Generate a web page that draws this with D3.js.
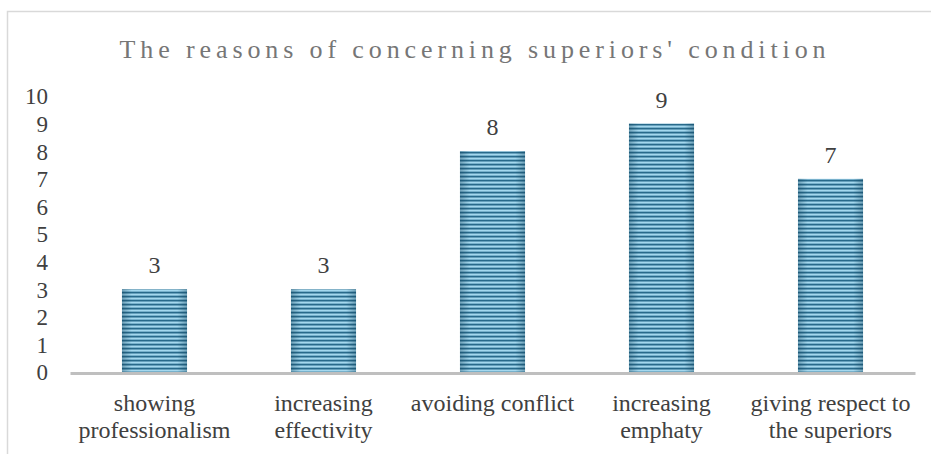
<!DOCTYPE html>
<html>
<head>
<meta charset="utf-8">
<script src="https://cdn.jsdelivr.net/npm/d3@7"></script>
</head>
<body style="margin:0">
<svg id="chart" width="931" height="454" font-family="Liberation Serif"></svg>
<script>
// Chart content
const chartTitle = "The reasons of concerning superiors' condition";
const categories = [
  ["showing", "professionalism"],
  ["increasing", "effectivity"],
  ["avoiding conflict"],
  ["increasing", "emphaty"],
  ["giving respect to", "the superiors"]
];
const values = [3, 3, 8, 9, 7];
const yTicks = [0, 1, 2, 3, 4, 5, 6, 7, 8, 9, 10];

const FONT = '"Liberation Serif"';
const svg = d3.select("#chart");

// Outer chart frame (runs off the right and bottom edges)
svg.append("rect")
  .attr("x", 7.5).attr("y", 11.5)
  .attr("width", 1000).attr("height", 600)
  .attr("fill", "#fff")
  .attr("stroke", "#d9d9d9").attr("stroke-width", 1.5);

// Striped fill for the bars
const defs = svg.append("defs");
const pat = defs.append("pattern")
  .attr("id", "stripes")
  .attr("patternUnits", "userSpaceOnUse")
  .attr("width", 8).attr("height", 4);
[["#286a8b", 0, 1.2], ["#4a8fb1", 1.2, 0.8], ["#a4d8ee", 2, 1.2], ["#5a9fc0", 3.2, 0.8]]
  .forEach(([c, yy, h]) => pat.append("rect").attr("x", 0).attr("y", yy)
    .attr("width", 8).attr("height", h).attr("fill", c));

const shade = defs.append("linearGradient").attr("id", "edgeShade")
  .attr("x1", 0).attr("x2", 1).attr("y1", 0).attr("y2", 0);
[[0, 0.35], [0.15, 0], [0.85, 0], [1, 0.35]].forEach(([o, a]) =>
  shade.append("stop").attr("offset", o).attr("stop-color", "#0d3c55").attr("stop-opacity", a));

// Scales
const x = d3.scaleBand()
  .domain(d3.range(categories.length))
  .range([70, 915])
  .paddingInner(0.615)
  .paddingOuter(0.3075);
const y = d3.scaleLinear().domain([0, 10]).range([372, 96]);

// Title, letter-spaced across its span
const title = svg.append("text")
  .attr("x", 475).attr("y", 58)
  .attr("text-anchor", "middle")
  .attr("fill", "#767676")
  .attr("font-size", 26)
  .style("font-family", FONT)
  .text(chartTitle);
const natural = title.node().getComputedTextLength();
title.style("letter-spacing", ((706 - natural) / (chartTitle.length - 1)) + "px");

// Y axis (labels only)
const yAxis = d3.axisLeft(y).tickValues(yTicks).tickSize(0).tickPadding(0);
const gy = svg.append("g").attr("transform", "translate(48,0)").call(yAxis);
gy.attr("font-family", null);
gy.select(".domain").remove();
gy.selectAll("text")
  .attr("fill", "#404040")
  .attr("font-size", 23)
  .style("font-family", FONT)
  .attr("dy", "0.34em");

// Bars
const bars = svg.append("g");
bars.selectAll("rect.bar")
  .data(values)
  .join("rect")
  .attr("class", "bar")
  .attr("x", (d, i) => x(i))
  .attr("y", d => y(d))
  .attr("width", x.bandwidth())
  .attr("height", d => y(0) - y(d))
  .attr("fill", "url(#stripes)");
bars.selectAll("rect.shade")
  .data(values)
  .join("rect")
  .attr("class", "shade")
  .attr("x", (d, i) => x(i))
  .attr("y", d => y(d))
  .attr("width", x.bandwidth())
  .attr("height", d => y(0) - y(d))
  .attr("fill", "url(#edgeShade)");

// Value labels
svg.append("g").selectAll("text")
  .data(values)
  .join("text")
  .attr("x", (d, i) => x(i) + x.bandwidth() / 2)
  .attr("y", d => y(d) - 16)
  .attr("text-anchor", "middle")
  .attr("fill", "#404040")
  .attr("font-size", 24)
  .style("font-family", FONT)
  .text(d => d);

// X axis baseline
const xAxis = d3.axisBottom(x).tickSize(0).tickFormat("");
const gx = svg.append("g").attr("transform", `translate(0,${y(0) + 1})`).call(xAxis);
gx.attr("font-family", null);
gx.select(".domain").attr("stroke", "#bfbfbf").attr("stroke-width", 3);
gx.selectAll(".tick").remove();

// Category labels
const cat = svg.append("g").selectAll("text")
  .data(categories)
  .join("text")
  .attr("x", (d, i) => x(i) + x.bandwidth() / 2)
  .attr("y", 411)
  .attr("text-anchor", "middle")
  .attr("fill", "#404040")
  .attr("font-size", 24)
  .style("font-family", FONT);
cat.selectAll("tspan")
  .data(d => d)
  .join("tspan")
  .attr("x", function () { return this.parentNode.getAttribute("x"); })
  .attr("dy", (d, i) => i === 0 ? 0 : 27)
  .text(d => d);
</script>
</body>
</html>
